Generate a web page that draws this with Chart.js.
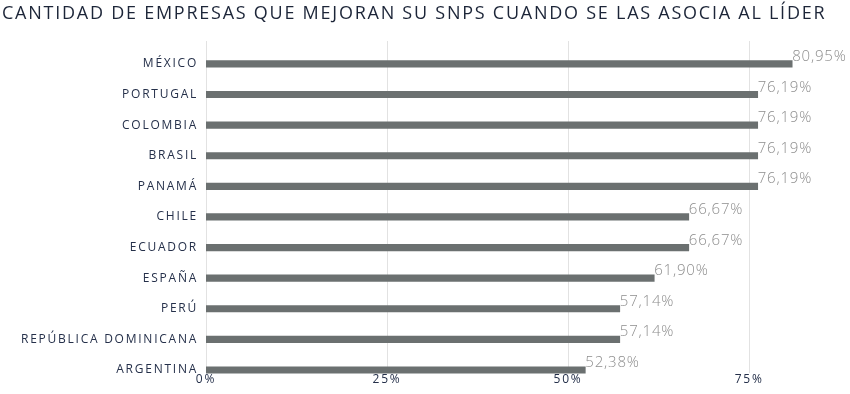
<!DOCTYPE html>
<html>
<head>
<meta charset="utf-8">
<script src="https://cdn.jsdelivr.net/npm/chart.js"></script>
<style>
    html, body { margin: 0; padding: 0; background: #ffffff; }
    #wrap { width: 850px; height: 394px; }
</style>
</head>
<body>
<div id="wrap"><canvas id="myChart" width="850" height="394"></canvas></div>
<script>
var countries = ['MÉXICO', 'PORTUGAL', 'COLOMBIA', 'BRASIL', 'PANAMÁ', 'CHILE', 'ECUADOR', 'ESPAÑA', 'PERÚ', 'REPÚBLICA DOMINICANA', 'ARGENTINA'];
var percents = [80.95, 76.19, 76.19, 76.19, 76.19, 66.67, 66.67, 61.90, 57.14, 57.14, 52.38];
var xTicks = [0, 25, 50, 75];

var navy = '#25304a';

// the original font is a wide geometric one, so spread the letters a bit
var spacing = {
    id: 'spacing',
    beforeDraw: function (chart) {
        chart.ctx.letterSpacing = '1.75px';
    },
    afterDraw: function (chart) {
        chart.ctx.letterSpacing = '0px';
    }
};

// light vertical lines, drawn a bit shorter than the category band like the original
var gridPlugin = {
    id: 'softGrid',
    beforeDatasetsDraw: function (chart) {
        var ctx = chart.ctx;
        var x = chart.scales.x;
        ctx.save();
        ctx.strokeStyle = '#e2e2e2';
        ctx.lineWidth = 1;
        xTicks.forEach(function (t) {
            var px = Math.round(x.getPixelForValue(t)) + 0.5;
            ctx.beginPath();
            ctx.moveTo(px, 41);
            ctx.lineTo(px, 373);
            ctx.stroke();
        });
        ctx.restore();
    }
};

var valueLabels = {
    id: 'valueLabels',
    afterDatasetsDraw: function (chart) {
        var ctx = chart.ctx;
        var meta = chart.getDatasetMeta(0);
        ctx.save();
        ctx.letterSpacing = '0.8px';
        ctx.font = '300 15px "Open Sans", sans-serif';
        ctx.fillStyle = '#8e8e8e';
        ctx.textAlign = 'left';
        ctx.textBaseline = 'alphabetic';
        meta.data.forEach(function (bar, i) {
            var txt = percents[i].toFixed(2).replace('.', ',') + '%';
            ctx.fillText(txt, bar.x, bar.y - 3);
        });
        ctx.restore();
    }
};

new Chart('myChart', {
    type: 'bar',
    data: {
        labels: countries,
        datasets: [{
            data: percents,
            backgroundColor: '#6b7070',
            barThickness: 6.5,
            borderWidth: 0
        }]
    },
    options: {
        indexAxis: 'y',
        responsive: false,
        animation: false,
        layout: { padding: { left: 2, right: 14, top: 0, bottom: 0 } },
        plugins: {
            legend: { display: false },
            tooltip: { enabled: false },
            title: {
                display: true,
                text: 'CANTIDAD DE EMPRESAS QUE MEJORAN SU SNPS CUANDO SE LAS ASOCIA AL LÍDER',
                align: 'start',
                color: '#1c2538',
                font: { family: '"Open Sans", sans-serif', size: 18, weight: '400' },
                padding: { top: 3, bottom: 24 }
            }
        },
        scales: {
            x: {
                min: 0,
                max: 87,
                border: { display: false },
                grid: { display: false, drawTicks: false },
                afterBuildTicks: function (scale) {
                    scale.ticks = xTicks.map(function (v) { return { value: v }; });
                },
                // labels sit a little inside the bottom band, as in the original
                afterFit: function (scale) { scale.height = 8.7; },
                ticks: {
                    mirror: true,
                    padding: -1.5,
                    color: navy,
                    font: { family: '"Open Sans", sans-serif', size: 12 },
                    callback: function (v) { return v + '%'; }
                }
            },
            y: {
                border: { display: false },
                grid: { display: false, drawTicks: false },
                afterFit: function (scale) {
                    scale.width = 204;
                    scale.paddingTop = 0;
                    scale.paddingBottom = 0;
                },
                ticks: {
                    padding: 8,
                    color: navy,
                    font: { family: '"Open Sans", sans-serif', size: 12 }
                }
            }
        }
    },
    plugins: [spacing, gridPlugin, valueLabels]
});
</script>
</body>
</html>
